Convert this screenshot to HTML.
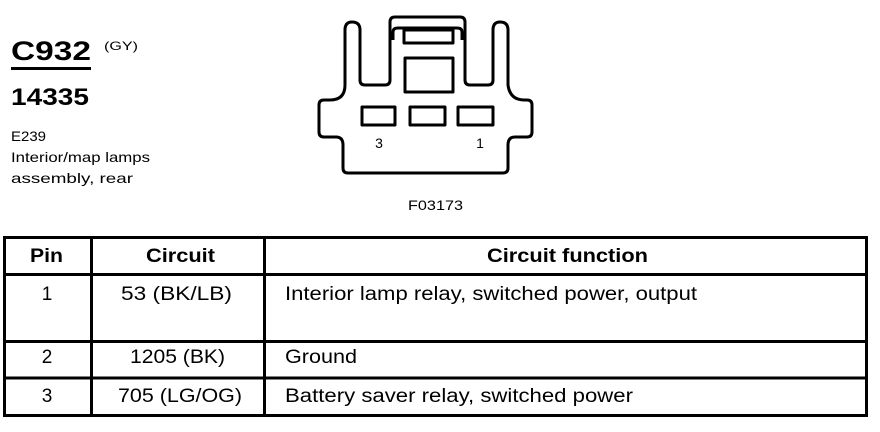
<!DOCTYPE html>
<html><head><meta charset="utf-8"><style>
html,body{margin:0;padding:0;background:#fff;}
svg{display:block;font-family:"Liberation Sans",Arial,sans-serif;}
</style></head><body>
<svg width="880" height="432" viewBox="0 0 880 432" xmlns="http://www.w3.org/2000/svg">
<rect width="880" height="432" fill="#fff"/>
<text x="11" y="60" font-size="27" font-weight="bold" textLength="80" lengthAdjust="spacingAndGlyphs">C932</text>
<rect x="11" y="67" width="80" height="3" fill="#000"/>
<text x="104" y="50" font-size="12" textLength="34" lengthAdjust="spacingAndGlyphs">(GY)</text>
<text x="11" y="105" font-size="24" font-weight="bold" textLength="78" lengthAdjust="spacingAndGlyphs">14335</text>
<text x="11" y="141" font-size="14" textLength="35" lengthAdjust="spacingAndGlyphs">E239</text>
<text x="11" y="162" font-size="14" textLength="139" lengthAdjust="spacingAndGlyphs">Interior/map lamps</text>
<text x="11" y="183" font-size="14" textLength="122" lengthAdjust="spacingAndGlyphs">assembly, rear</text>

<g fill="none" stroke="#000" stroke-width="3" stroke-linejoin="round">
<path d="M345,85 L345,30 Q345,22 352,22 Q360,22 360,30 L360,80 Q360,85 365,85 L385,85 Q390,85 390,80 L390,22 Q390,17 395,17 L460,17 Q465,17 465,22 L465,80 Q465,85 470,85 L488,85 Q493,85 493,80 L493,30 Q493,22 500,22 Q508,22 508,30 L508,85 Q510,100 524,100 L527,100 Q532,100 532,105 L532,132 Q532,137 527,137 L515,137 Q508,137 508,145 L508,168 Q508,173 503,173 L348,173 Q343,173 343,168 L343,145 Q343,137 336,137 L324,137 Q319,137 319,132 L319,105 Q319,100 324,100 L330,100 Q345,100 345,85 Z"/>
<path d="M393,40 L393,32 Q393,28 398,28 L457,28 Q462,28 462,32 L462,40"/>
<rect x="404" y="30" width="49" height="13"/>
<rect x="405" y="58" width="48" height="34"/>
<rect x="362" y="107" width="33" height="18"/>
<rect x="410" y="107" width="35" height="18"/>
<rect x="458" y="107" width="35" height="18"/>
</g>
<text x="379" y="148" font-size="14" text-anchor="middle">3</text>
<text x="480" y="148" font-size="14" text-anchor="middle">1</text>
<text x="408" y="210" font-size="14" textLength="55" lengthAdjust="spacingAndGlyphs">F03173</text>

<g fill="none" stroke="#000" stroke-width="3">
<rect x="4.5" y="237.5" width="862" height="178"/>
<line x1="4" y1="274.5" x2="867" y2="274.5"/>
<line x1="4" y1="341.5" x2="867" y2="341.5"/>
<line x1="4" y1="378" x2="867" y2="378"/>
<line x1="91.5" y1="237" x2="91.5" y2="416"/>
<line x1="264.5" y1="237" x2="264.5" y2="416"/>
</g>
<g font-size="19" lengthAdjust="spacingAndGlyphs">
<text x="30" y="262" font-weight="bold" textLength="33" lengthAdjust="spacingAndGlyphs">Pin</text>
<text x="146" y="262" font-weight="bold" textLength="69" lengthAdjust="spacingAndGlyphs">Circuit</text>
<text x="487" y="262" font-weight="bold" textLength="161" lengthAdjust="spacingAndGlyphs">Circuit function</text>
<text x="47" y="300" text-anchor="middle">1</text>
<text x="121" y="300" textLength="111" lengthAdjust="spacingAndGlyphs">53 (BK/LB)</text>
<text x="285" y="300" textLength="412" lengthAdjust="spacingAndGlyphs">Interior lamp relay, switched power, output</text>
<text x="47" y="363" text-anchor="middle">2</text>
<text x="130" y="363" textLength="95" lengthAdjust="spacingAndGlyphs">1205 (BK)</text>
<text x="285" y="363" textLength="72" lengthAdjust="spacingAndGlyphs">Ground</text>
<text x="47" y="402" text-anchor="middle">3</text>
<text x="118" y="402" textLength="124" lengthAdjust="spacingAndGlyphs">705 (LG/OG)</text>
<text x="285" y="402" textLength="348" lengthAdjust="spacingAndGlyphs">Battery saver relay, switched power</text>
</g>
</svg>
</body></html>
